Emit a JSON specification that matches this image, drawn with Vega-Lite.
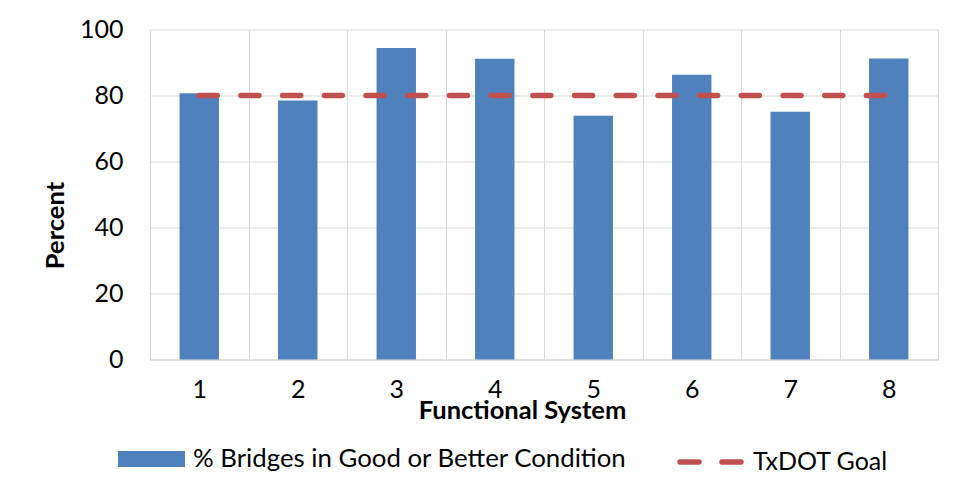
{
  "$schema": "https://vega.github.io/schema/vega-lite/v6.json",
  "width": 788,
  "height": 330,
  "autosize": "none",
  "padding": {"left": 150, "top": 29.5, "right": 16, "bottom": 120.5},
  "background": "white",
  "config": {
    "font": "Lato",
    "view": {"stroke": null},
    "axis": {"labelColor": "#000000", "titleColor": "#000000", "labelFont": "Lato", "titleFont": "Lato"},
    "legend": {"labelColor": "#000000", "labelFont": "Lato"}
  },
  "data": {
    "values": [
      {"system": "1", "pct": 80.7, "goal": 80},
      {"system": "2", "pct": 78.5, "goal": 80},
      {"system": "3", "pct": 94.4, "goal": 80},
      {"system": "4", "pct": 91.1, "goal": 80},
      {"system": "5", "pct": 73.9, "goal": 80},
      {"system": "6", "pct": 86.3, "goal": 80},
      {"system": "7", "pct": 75.1, "goal": 80},
      {"system": "8", "pct": 91.2, "goal": 80}
    ]
  },
  "layer": [
    {
      "mark": {"type": "bar", "width": {"band": 0.4}},
      "encoding": {
        "x": {
          "field": "system",
          "type": "ordinal",
          "scale": {"paddingInner": 0, "paddingOuter": 0},
          "axis": {
            "title": "Functional System",
            "titleFontSize": 25.5,
            "titleFontWeight": "bold",
            "titleX": 372,
            "titleY": 59,
            "titleBaseline": "alphabetic",
            "titleAlign": "center",
            "labelAngle": 0,
            "labelFontSize": 25,
            "labelBaseline": "alphabetic",
            "labelPadding": 38,
            "ticks": false,
            "tickSize": 0,
            "tickBand": "extent",
            "grid": true,
            "gridColor": "#d9d9d9",
            "gridWidth": 1,
            "domainColor": "#d9d9d9",
            "domainWidth": 1
          }
        },
        "y": {
          "field": "pct",
          "type": "quantitative",
          "scale": {"domain": [0, 100]},
          "axis": {
            "title": "Percent",
            "titleFontSize": 25.5,
            "titleFontWeight": "bold",
            "titleAngle": -90,
            "titleX": -87,
            "titleY": 195.5,
            "titleAlign": "center",
            "titleBaseline": "alphabetic",
            "values": [0, 20, 40, 60, 80, 100],
            "labelFontSize": 25,
            "labelPadding": 27,
            "labelBaseline": "middle",
            "ticks": false,
            "tickSize": 0,
            "domain": false,
            "grid": true,
            "gridColor": "#d9d9d9",
            "gridWidth": 1
          }
        },
        "fill": {
          "datum": "% Bridges in Good or Better Condition",
          "type": "nominal",
          "scale": {"range": ["#4f81bd"]},
          "legend": {
            "orient": "none",
            "legendX": -32,
            "legendY": 396,
            "title": null,
            "padding": 0,
            "symbolType": "M-1,-0.24H1V0.24H-1Z",
            "symbolSize": 4489,
            "symbolStrokeWidth": 0,
            "labelFontSize": 25.8,
            "labelLimit": 0,
            "labelOffset": 8
          }
        }
      }
    },
    {
      "mark": {"type": "line", "strokeDash": [18, 23.7], "strokeWidth": 5.5, "strokeCap": "round"},
      "encoding": {
        "x": {"field": "system", "type": "ordinal"},
        "y": {"field": "goal", "type": "quantitative"},
        "stroke": {
          "datum": "TxDOT Goal",
          "type": "nominal",
          "scale": {"range": ["#c0504d"]},
          "legend": {
            "orient": "none",
            "legendX": 527,
            "legendY": 399,
            "title": null,
            "padding": 0,
            "symbolType": "stroke",
            "symbolSize": 3721,
            "symbolStrokeWidth": 5.5,
            "symbolDash": [19, 23],
            "labelFontSize": 25,
            "labelLimit": 0,
            "labelOffset": 9,
            "encode": {"symbols": {"update": {"strokeCap": {"value": "round"}}}}
          }
        }
      }
    }
  ]
}
